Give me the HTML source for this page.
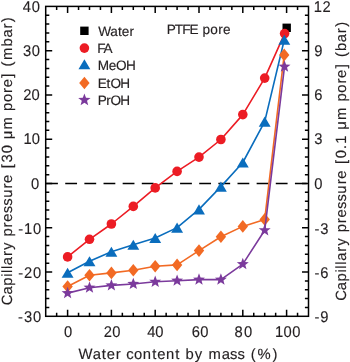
<!DOCTYPE html>
<html><head><meta charset="utf-8"><style>
html,body{margin:0;padding:0;background:#fff;}
body{width:350px;height:362px;overflow:hidden;font-family:"Liberation Sans",sans-serif;}
svg{display:block;will-change:transform;}
</style></head><body>
<svg width="350" height="362" viewBox="0 0 350 362" font-family="'Liberation Sans', sans-serif" text-rendering="geometricPrecision">
<path d="M56.65 316.30V312.70M56.65 6.40V10.00M67.60 316.30V309.80M67.60 6.40V12.90M78.55 316.30V312.70M78.55 6.40V10.00M89.50 316.30V312.70M89.50 6.40V10.00M100.45 316.30V312.70M100.45 6.40V10.00M111.40 316.30V309.80M111.40 6.40V12.90M122.35 316.30V312.70M122.35 6.40V10.00M133.30 316.30V312.70M133.30 6.40V10.00M144.25 316.30V312.70M144.25 6.40V10.00M155.20 316.30V309.80M155.20 6.40V12.90M166.15 316.30V312.70M166.15 6.40V10.00M177.10 316.30V312.70M177.10 6.40V10.00M188.05 316.30V312.70M188.05 6.40V10.00M199.00 316.30V309.80M199.00 6.40V12.90M209.95 316.30V312.70M209.95 6.40V10.00M220.90 316.30V312.70M220.90 6.40V10.00M231.85 316.30V312.70M231.85 6.40V10.00M242.80 316.30V309.80M242.80 6.40V12.90M253.75 316.30V312.70M253.75 6.40V10.00M264.70 316.30V312.70M264.70 6.40V10.00M275.65 316.30V312.70M275.65 6.40V10.00M286.60 316.30V309.80M286.60 6.40V12.90M297.55 316.30V312.70M297.55 6.40V10.00M45.70 307.45H49.30M308.50 307.45H304.90M45.70 298.59H49.30M308.50 298.59H304.90M45.70 289.74H49.30M308.50 289.74H304.90M45.70 280.88H49.30M308.50 280.88H304.90M45.70 272.03H52.20M308.50 272.03H302.00M45.70 263.17H49.30M308.50 263.17H304.90M45.70 254.32H49.30M308.50 254.32H304.90M45.70 245.47H49.30M308.50 245.47H304.90M45.70 236.61H49.30M308.50 236.61H304.90M45.70 227.76H52.20M308.50 227.76H302.00M45.70 218.90H49.30M308.50 218.90H304.90M45.70 210.05H49.30M308.50 210.05H304.90M45.70 201.19H49.30M308.50 201.19H304.90M45.70 192.34H49.30M308.50 192.34H304.90M45.70 183.49H52.20M308.50 183.49H302.00M45.70 174.63H49.30M308.50 174.63H304.90M45.70 165.78H49.30M308.50 165.78H304.90M45.70 156.92H49.30M308.50 156.92H304.90M45.70 148.07H49.30M308.50 148.07H304.90M45.70 139.21H52.20M308.50 139.21H302.00M45.70 130.36H49.30M308.50 130.36H304.90M45.70 121.51H49.30M308.50 121.51H304.90M45.70 112.65H49.30M308.50 112.65H304.90M45.70 103.80H49.30M308.50 103.80H304.90M45.70 94.94H52.20M308.50 94.94H302.00M45.70 86.09H49.30M308.50 86.09H304.90M45.70 77.23H49.30M308.50 77.23H304.90M45.70 68.38H49.30M308.50 68.38H304.90M45.70 59.53H49.30M308.50 59.53H304.90M45.70 50.67H52.20M308.50 50.67H302.00M45.70 41.82H49.30M308.50 41.82H304.90M45.70 32.96H49.30M308.50 32.96H304.90M45.70 24.11H49.30M308.50 24.11H304.90M45.70 15.25H49.30M308.50 15.25H304.90" stroke="#000" stroke-width="1.5" fill="none"/>
<line x1="45.70" y1="183.49" x2="308.50" y2="183.49" stroke="#000" stroke-width="1.5" stroke-dasharray="11.8 7.34" stroke-dashoffset="-0.4"/>
<rect x="282.50" y="23.60" width="8.4" height="8.4" fill="#000"/>
<polyline points="67.60,256.90 89.50,239.30 111.40,224.00 133.30,206.40 155.20,187.90 177.10,171.40 199.00,157.10 220.90,139.50 242.80,114.60 264.70,78.10 284.60,33.60" fill="none" stroke="#EC1C24" stroke-width="1.6" stroke-linejoin="round"/>
<circle cx="67.60" cy="256.90" r="4.8" fill="#EC1C24"/>
<circle cx="89.50" cy="239.30" r="4.8" fill="#EC1C24"/>
<circle cx="111.40" cy="224.00" r="4.8" fill="#EC1C24"/>
<circle cx="133.30" cy="206.40" r="4.8" fill="#EC1C24"/>
<circle cx="155.20" cy="187.90" r="4.8" fill="#EC1C24"/>
<circle cx="177.10" cy="171.40" r="4.8" fill="#EC1C24"/>
<circle cx="199.00" cy="157.10" r="4.8" fill="#EC1C24"/>
<circle cx="220.90" cy="139.50" r="4.8" fill="#EC1C24"/>
<circle cx="242.80" cy="114.60" r="4.8" fill="#EC1C24"/>
<circle cx="264.70" cy="78.10" r="4.8" fill="#EC1C24"/>
<circle cx="284.60" cy="33.60" r="4.8" fill="#EC1C24"/>
<polyline points="67.60,272.70 89.50,261.20 111.40,251.70 133.30,244.80 155.20,238.00 177.10,227.60 199.00,209.40 220.90,186.60 242.80,162.50 264.70,121.60 284.30,39.70" fill="none" stroke="#0A6DBD" stroke-width="1.6" stroke-linejoin="round"/>
<path d="M67.60 267.65L73.55 277.75L61.65 277.75Z" fill="#0A6DBD"/>
<path d="M89.50 256.15L95.45 266.25L83.55 266.25Z" fill="#0A6DBD"/>
<path d="M111.40 246.65L117.35 256.75L105.45 256.75Z" fill="#0A6DBD"/>
<path d="M133.30 239.75L139.25 249.85L127.35 249.85Z" fill="#0A6DBD"/>
<path d="M155.20 232.95L161.15 243.05L149.25 243.05Z" fill="#0A6DBD"/>
<path d="M177.10 222.55L183.05 232.65L171.15 232.65Z" fill="#0A6DBD"/>
<path d="M199.00 204.35L204.95 214.45L193.05 214.45Z" fill="#0A6DBD"/>
<path d="M220.90 181.55L226.85 191.65L214.95 191.65Z" fill="#0A6DBD"/>
<path d="M242.80 157.45L248.75 167.55L236.85 167.55Z" fill="#0A6DBD"/>
<path d="M264.70 116.55L270.65 126.65L258.75 126.65Z" fill="#0A6DBD"/>
<path d="M284.30 34.65L290.25 44.75L278.35 44.75Z" fill="#0A6DBD"/>
<polyline points="67.60,286.50 89.50,275.20 111.40,272.90 133.30,270.30 155.20,266.30 177.10,264.90 199.00,250.60 220.90,236.70 242.80,226.40 264.70,219.40 284.20,54.90" fill="none" stroke="#F26A24" stroke-width="1.6" stroke-linejoin="round"/>
<path d="M67.60 280.20L72.80 286.50L67.60 292.80L62.40 286.50Z" fill="#F26A24"/>
<path d="M89.50 268.90L94.70 275.20L89.50 281.50L84.30 275.20Z" fill="#F26A24"/>
<path d="M111.40 266.60L116.60 272.90L111.40 279.20L106.20 272.90Z" fill="#F26A24"/>
<path d="M133.30 264.00L138.50 270.30L133.30 276.60L128.10 270.30Z" fill="#F26A24"/>
<path d="M155.20 260.00L160.40 266.30L155.20 272.60L150.00 266.30Z" fill="#F26A24"/>
<path d="M177.10 258.60L182.30 264.90L177.10 271.20L171.90 264.90Z" fill="#F26A24"/>
<path d="M199.00 244.30L204.20 250.60L199.00 256.90L193.80 250.60Z" fill="#F26A24"/>
<path d="M220.90 230.40L226.10 236.70L220.90 243.00L215.70 236.70Z" fill="#F26A24"/>
<path d="M242.80 220.10L248.00 226.40L242.80 232.70L237.60 226.40Z" fill="#F26A24"/>
<path d="M264.70 213.10L269.90 219.40L264.70 225.70L259.50 219.40Z" fill="#F26A24"/>
<path d="M284.20 48.60L289.40 54.90L284.20 61.20L279.00 54.90Z" fill="#F26A24"/>
<polyline points="67.60,293.10 89.50,287.70 111.40,285.40 133.30,284.00 155.20,281.80 177.10,280.70 199.00,279.60 220.90,279.60 242.80,264.10 264.70,230.30 284.50,66.60" fill="none" stroke="#7B3A9C" stroke-width="1.6" stroke-linejoin="round"/>
<polygon points="67.60,286.80 69.16,290.96 73.59,291.15 70.12,293.92 71.30,298.20 67.60,295.75 63.90,298.20 65.08,293.92 61.61,291.15 66.04,290.96" fill="#7B3A9C"/>
<polygon points="89.50,281.40 91.06,285.56 95.49,285.75 92.02,288.52 93.20,292.80 89.50,290.35 85.80,292.80 86.98,288.52 83.51,285.75 87.94,285.56" fill="#7B3A9C"/>
<polygon points="111.40,279.10 112.96,283.26 117.39,283.45 113.92,286.22 115.10,290.50 111.40,288.05 107.70,290.50 108.88,286.22 105.41,283.45 109.84,283.26" fill="#7B3A9C"/>
<polygon points="133.30,277.70 134.86,281.86 139.29,282.05 135.82,284.82 137.00,289.10 133.30,286.65 129.60,289.10 130.78,284.82 127.31,282.05 131.74,281.86" fill="#7B3A9C"/>
<polygon points="155.20,275.50 156.76,279.66 161.19,279.85 157.72,282.62 158.90,286.90 155.20,284.45 151.50,286.90 152.68,282.62 149.21,279.85 153.64,279.66" fill="#7B3A9C"/>
<polygon points="177.10,274.40 178.66,278.56 183.09,278.75 179.62,281.52 180.80,285.80 177.10,283.35 173.40,285.80 174.58,281.52 171.11,278.75 175.54,278.56" fill="#7B3A9C"/>
<polygon points="199.00,273.30 200.56,277.46 204.99,277.65 201.52,280.42 202.70,284.70 199.00,282.25 195.30,284.70 196.48,280.42 193.01,277.65 197.44,277.46" fill="#7B3A9C"/>
<polygon points="220.90,273.30 222.46,277.46 226.89,277.65 223.42,280.42 224.60,284.70 220.90,282.25 217.20,284.70 218.38,280.42 214.91,277.65 219.34,277.46" fill="#7B3A9C"/>
<polygon points="242.80,257.80 244.36,261.96 248.79,262.15 245.32,264.92 246.50,269.20 242.80,266.75 239.10,269.20 240.28,264.92 236.81,262.15 241.24,261.96" fill="#7B3A9C"/>
<polygon points="264.70,224.00 266.26,228.16 270.69,228.35 267.22,231.12 268.40,235.40 264.70,232.95 261.00,235.40 262.18,231.12 258.71,228.35 263.14,228.16" fill="#7B3A9C"/>
<polygon points="284.50,60.30 286.06,64.46 290.49,64.65 287.02,67.42 288.20,71.70 284.50,69.25 280.80,71.70 281.98,67.42 278.51,64.65 282.94,64.46" fill="#7B3A9C"/>
<rect x="45.70" y="6.40" width="262.80" height="309.90" fill="none" stroke="#000" stroke-width="1.5"/>
<rect x="80.20" y="26.60" width="8.4" height="8.4" fill="#000"/>
<circle cx="84.40" cy="48.10" r="4.8" fill="#EC1C24"/>
<path d="M84.40 59.15L90.35 69.25L78.45 69.25Z" fill="#0A6DBD"/>
<path d="M84.40 76.70L89.60 83.00L84.40 89.30L79.20 83.00Z" fill="#F26A24"/>
<polygon points="84.40,93.50 86.00,97.79 90.58,97.99 87.00,100.84 88.22,105.26 84.40,102.73 80.58,105.26 81.80,100.84 78.22,97.99 82.80,97.79" fill="#7B3A9C"/>
<g stroke="#231F20" stroke-width="0.15">
<text x="98.24 110.21 117.95 121.87 129.40" y="35.60" font-size="13.6" fill="#231F20" >Water</text>
<text x="97.18 103.46" y="52.97" font-size="13.6" fill="#231F20" >FA</text>
<text x="97.68 108.69 115.95 126.09" y="70.34" font-size="13.6" fill="#231F20" >MeOH</text>
<text x="97.68 106.62 110.47 120.29" y="87.71" font-size="13.6" fill="#231F20" >EtOH</text>
<text x="97.68 106.21 110.56 120.29" y="105.08" font-size="13.6" fill="#231F20" >PrOH</text>
<text x="166.68 174.71 182.19 189.38 198.20 202.42 210.14 218.14 223.04" y="34.30" font-size="13.6" fill="#231F20" >PTFE pore</text>
<text x="23.85 33.46" y="11.50" font-size="15.5" fill="#231F20" transform="scale(0.95 1)" >40</text>
<text x="24.15 33.46" y="55.77" font-size="15.5" fill="#231F20" transform="scale(0.95 1)" >30</text>
<text x="24.38 33.25" y="100.04" font-size="15.5" fill="#231F20" transform="scale(0.95 1)" >20</text>
<text x="24.61 33.46" y="144.31" font-size="15.5" fill="#231F20" transform="scale(0.95 1)" >10</text>
<text x="32.74" y="188.59" font-size="15.5" fill="#231F20" transform="scale(0.95 1)" >0</text>
<text x="19.10 25.29 34.72" y="233.56" font-size="15.5" fill="#231F20" transform="scale(0.95 1)" >-10</text>
<text x="19.10 25.29 34.72" y="277.83" font-size="15.5" fill="#231F20" transform="scale(0.95 1)" >-20</text>
<text x="18.89 25.22 34.83" y="322.10" font-size="15.5" fill="#231F20" transform="scale(0.95 1)" >-30</text>
<text x="330.19 339.42" y="11.50" font-size="15.5" fill="#231F20" transform="scale(0.95 1)" >12</text>
<text x="330.80" y="55.77" font-size="15.5" fill="#231F20" transform="scale(0.95 1)" >9</text>
<text x="330.74" y="100.04" font-size="15.5" fill="#231F20" transform="scale(0.95 1)" >6</text>
<text x="330.84" y="144.31" font-size="15.5" fill="#231F20" transform="scale(0.95 1)" >3</text>
<text x="330.80" y="188.59" font-size="15.5" fill="#231F20" transform="scale(0.95 1)" >0</text>
<text x="331.10 337.01" y="233.56" font-size="15.5" fill="#231F20" transform="scale(0.95 1)" >-3</text>
<text x="331.10 337.01" y="277.83" font-size="15.5" fill="#231F20" transform="scale(0.95 1)" >-6</text>
<text x="331.10 337.06" y="322.10" font-size="15.5" fill="#231F20" transform="scale(0.95 1)" >-9</text>
<text x="67.37" y="336.80" font-size="15.5" fill="#231F20" transform="scale(0.95 1)" >0</text>
<text x="109.22 118.20" y="336.80" font-size="15.5" fill="#231F20" transform="scale(0.95 1)" >20</text>
<text x="155.01 163.56" y="336.80" font-size="15.5" fill="#231F20" transform="scale(0.95 1)" >40</text>
<text x="201.74 210.72" y="336.80" font-size="15.5" fill="#231F20" transform="scale(0.95 1)" >60</text>
<text x="246.91 256.83" y="336.80" font-size="15.5" fill="#231F20" transform="scale(0.95 1)" >80</text>
<text x="289.45 298.51 307.56" y="336.80" font-size="15.5" fill="#231F20" transform="scale(0.95 1)" >100</text>
<text x="78.43 92.65 101.81 106.82 115.77 121.74 126.32 133.96 142.80 152.19 157.20 165.97 175.36 180.68 185.58 194.67 203.05 208.39 221.68 230.10 237.53 245.41 250.75 257.56 272.59" y="358.50" font-size="14.8" fill="#231F20" >Water content by mass (%)</text>
<text transform="translate(12.00 304.90) rotate(-90)" x="-0.25 10.32 19.13 28.05 31.99 35.94 39.76 48.81 54.90 63.34 68.29 77.50 83.20 91.66 99.15 107.04 116.31 122.02 130.90 136.70 142.48 151.63 160.80 165.69 175.36 189.00 193.96 202.80 211.89 217.60 227.21 233.01 238.40 244.97 258.50 267.30 276.35 282.69" y="0" font-size="14.8" fill="#231F20">Capillary pressure [30 μm pore] (mbar)</text>
<text transform="translate(346.30 300.60) rotate(-90)" x="-0.25 10.32 19.12 28.04 31.98 35.92 39.74 48.78 54.87 63.31 68.26 77.46 83.16 91.61 99.10 106.98 116.26 121.96 130.84 136.63 142.41 151.66 156.79 165.95 170.84 180.51 194.14 199.09 207.94 217.02 222.73 232.34 238.13 243.52 249.61 258.41 267.45 273.79" y="0" font-size="14.8" fill="#231F20">Capillary pressure [0.1 μm pore] (bar)</text>
</g>
</svg>
</body></html>
